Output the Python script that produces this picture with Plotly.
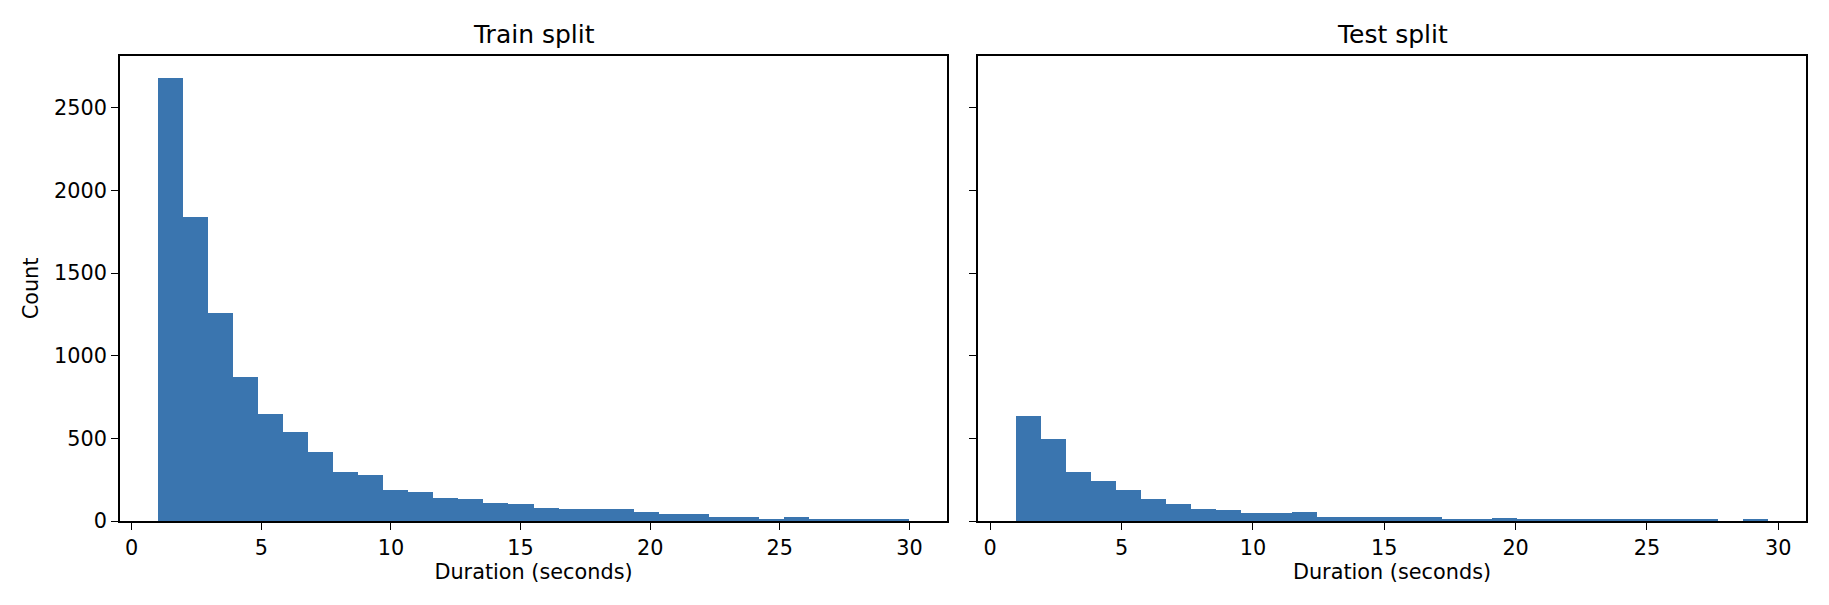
import numpy as np
import plotly.graph_objects as go

# ---- data ----
train_range = (1.0, 30.0)
train_counts = [2680, 1840, 1260, 870, 648, 538, 418, 297, 279, 187,
                175, 139, 131, 110, 100, 81, 72, 72, 72, 53,
                44, 44, 27, 26, 14, 26, 14, 14, 14, 14]

test_range = (0.97, 29.62)
test_counts = [638, 499, 297, 242, 187, 131, 103, 75, 65, 46,
               46, 55, 27, 27, 27, 26, 26, 14, 8, 16,
               8, 8, 8, 8, 8, 8, 8, 8, 0, 8]

x_ticks = [0, 5, 10, 15, 20, 25, 30]
y_ticks = [0, 500, 1000, 1500, 2000, 2500]

BAR = "#3a75af"
FONT = "DejaVu Sans"


def bins(rng, counts):
    edges = np.linspace(rng[0], rng[1], len(counts) + 1)
    centers = (edges[:-1] + edges[1:]) / 2
    widths = np.diff(edges)
    return centers, widths


fig = go.Figure()
c, w = bins(train_range, train_counts)
fig.add_trace(go.Bar(x=c, y=train_counts, width=w, marker=dict(color=BAR, line=dict(width=0)),
                     xaxis="x", yaxis="y", showlegend=False))
c2, w2 = bins(test_range, test_counts)
fig.add_trace(go.Bar(x=c2, y=test_counts, width=w2, marker=dict(color=BAR, line=dict(width=0)),
                     xaxis="x2", yaxis="y2", showlegend=False))

# page body has an 8px default margin, so the figure is shifted by 8px
OFF = 8
W, H = 1829 - OFF, 605 - OFF
ml, mr, mt, mb = 120 - OFF, 23, 56 - OFF, 84
pw = W - ml - mr
d1 = [0, (947 - 120) / pw]
d2 = [(978 - 120) / pw, 1]

axis_common = dict(showline=True, linecolor="black", linewidth=1.6, mirror=True,
                   ticks="outside", ticklen=7, tickwidth=1.4, tickcolor="black",
                   showgrid=False, zeroline=False, automargin=False,
                   tickfont=dict(family=FONT, size=20.8, color="black"))

tspan = train_range[1] - train_range[0]
tsp2 = test_range[1] - test_range[0]
ymax = max(train_counts) * 1.05

fig.update_layout(
    width=W, height=H,
    margin=dict(l=ml, r=mr, t=mt, b=mb),
    plot_bgcolor="white", paper_bgcolor="white",
    bargap=0,
    font=dict(family=FONT, color="black"),
    xaxis=dict(domain=d1, anchor="y", range=[train_range[0] - 0.05 * tspan, train_range[1] + 0.05 * tspan],
               tickvals=x_ticks, ticktext=[str(t) for t in x_ticks],
               title=dict(text="Duration (seconds)", font=dict(family=FONT, size=20.8, color="black"), standoff=6),
               **axis_common),
    yaxis=dict(domain=[0, 1], anchor="x", range=[0, ymax],
               tickvals=y_ticks, ticktext=[str(t) for t in y_ticks],
               title=dict(text="Count", font=dict(family=FONT, size=20.8, color="black"), standoff=10),
               **axis_common),
    xaxis2=dict(domain=d2, anchor="y2", range=[test_range[0] - 0.05 * tsp2, test_range[1] + 0.05 * tsp2],
                tickvals=x_ticks, ticktext=[str(t) for t in x_ticks],
                title=dict(text="Duration (seconds)", font=dict(family=FONT, size=20.8, color="black"), standoff=6),
                **axis_common),
    yaxis2=dict(domain=[0, 1], anchor="x2", matches="y", range=[0, ymax],
                tickvals=y_ticks, showticklabels=False, **axis_common),
    annotations=[
        dict(text="Train split", xref="paper", yref="paper", x=(d1[0] + d1[1]) / 2, y=1,
             yshift=5, xanchor="center", yanchor="bottom", showarrow=False,
             font=dict(family=FONT, size=25, color="black")),
        dict(text="Test split", xref="paper", yref="paper", x=(d2[0] + d2[1]) / 2, y=1,
             yshift=5, xanchor="center", yanchor="bottom", showarrow=False,
             font=dict(family=FONT, size=25, color="black")),
    ],
)

fig.write_html("out.html")
